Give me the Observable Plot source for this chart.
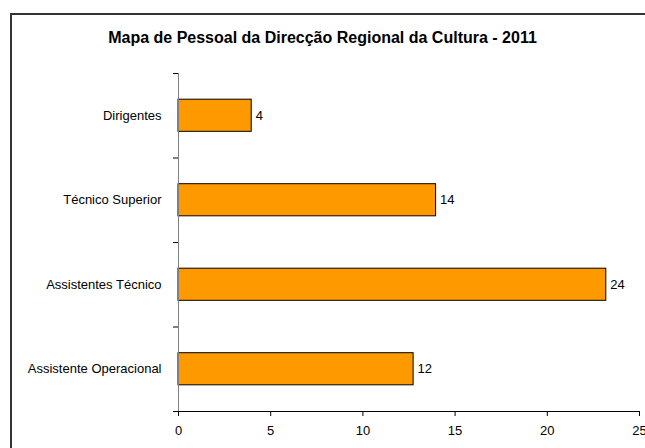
<!DOCTYPE html>
<html>
<head>
<meta charset="utf-8">
<script src="https://cdn.jsdelivr.net/npm/d3@7"></script>
<script src="https://cdn.jsdelivr.net/npm/@observablehq/plot@0.6"></script>
<style>
  html, body { margin: 0; padding: 0; background: #fff; }
  #wrap { position: relative; width: 645px; height: 448px; overflow: hidden; font-family: "Liberation Sans", Arial, sans-serif; }
  #frame { position: absolute; left: 10px; top: 13px; width: 700px; height: 500px; border: 2px solid #333; box-sizing: border-box; }
  #title { position: absolute; left: 0; width: 645px; top: 29px; text-align: center; font-weight: bold; font-size: 16px; line-height: 18px; color: #000; }
  #chart { position: absolute; left: 0; top: 0; }
</style>
</head>
<body>
<div id="wrap">
  <div id="frame"></div>
  <div id="title">Mapa de Pessoal da Direcção Regional da Cultura - 2011</div>
  <div id="chart"></div>
</div>
<script>
const categories = ["Dirigentes", "Técnico Superior", "Assistentes Técnico", "Assistente Operacional"];
const values = [3.97, 13.97, 23.2, 12.75];
const labels = ["4", "14", "24", "12"];
const xTicks = [0, 5, 10, 15, 20, 25];

const data = categories.map((c, i) => ({cat: c, idx: i, value: values[i], label: labels[i]}));
const barHalf = 0.19;

const plot = Plot.plot({
  width: 645,
  height: 448,
  marginLeft: 178,
  marginRight: 6,
  marginTop: 73,
  marginBottom: 37,
  style: {fontFamily: "'Liberation Sans', Arial, sans-serif", fontSize: "13px", background: "transparent", color: "#000"},
  x: {domain: [0, 25]},
  y: {domain: [0, categories.length], reverse: true},
  marks: [
    Plot.rectX(data, {x1: 0, x2: "value", y1: d => d.idx + 0.5 - barHalf, y2: d => d.idx + 0.5 + barHalf, fill: "#FF9900", stroke: "#000", strokeWidth: 1}),
    Plot.ruleX([0], {stroke: "#808080"}),
    Plot.axisY({ticks: d3.range(categories.length + 1), tickSize: 5, tickFormat: () => "", stroke: "#000"}),
    Plot.axisY({ticks: categories.map((c, i) => i + 0.5), tickSize: 0, tickPadding: 17, tickFormat: v => categories[Math.floor(v)], fontSize: 13, fill: "#000"}),
    Plot.ruleY([categories.length], {x1: -0.27, x2: 25, stroke: "#000"}),
    Plot.axisX({ticks: xTicks, tickSize: 5, tickPadding: 9, label: null, fontSize: 13, fill: "#000"}),
    Plot.text(data, {x: "value", y: d => d.idx + 0.5, text: "label", textAnchor: "start", dx: 4, fontSize: 13, fill: "#000"})
  ]
});
document.getElementById("chart").appendChild(plot);
</script>
</body>
</html>
